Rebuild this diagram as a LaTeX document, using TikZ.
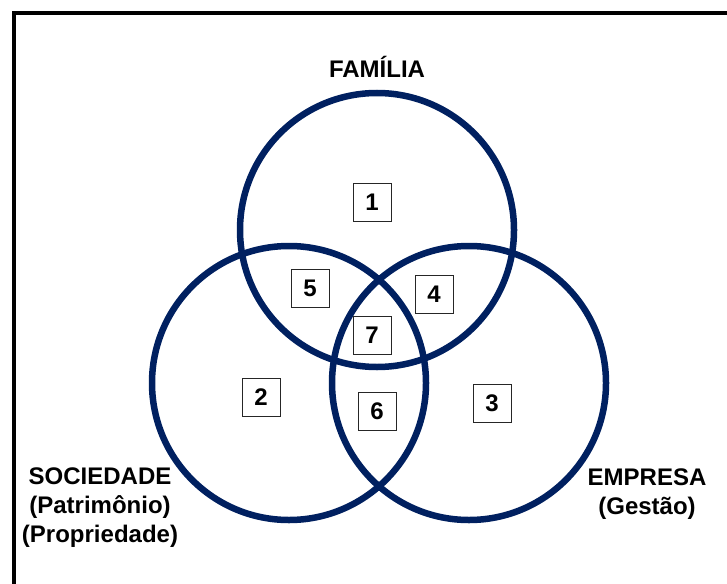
\documentclass[tikz,border=0pt]{standalone}
\usepackage{fontspec}
\setmainfont{Liberation Sans}
\definecolor{navy}{RGB}{0,32,96}
\begin{document}
\begin{tikzpicture}[x=1pt,y=-1pt,
  ring/.style={circle, draw=navy, line width=6.5pt, minimum size=274pt, inner sep=0pt},
  numbox/.style={draw=black!85, line width=1pt, minimum width=38pt, minimum height=38pt,
    inner sep=0pt, font=\fontsize{24}{24}\selectfont\bfseries},
  caption/.style={align=center, font=\fontsize{24}{29}\selectfont\bfseries}]
  \useasboundingbox (0,0) rectangle (727,583);
  \clip (0,0) rectangle (727,583);
  % outer frame (runs past the right and bottom edges)
  \draw[line width=4pt] (14,13) rectangle (760,620);

  % the three sets
  \node[ring] (familia) at (377,230) {};
  \node[ring] (sociedade) at (289,383) {};
  \node[ring] (empresa) at (469,383) {};

  % region numbers
  \node[numbox] (r1) at (372,202) {1};
  \node[numbox] (r2) at (261,397) {2};
  \node[numbox] (r3) at (492,403) {3};
  \node[numbox] (r4) at (434,294) {4};
  \node[numbox] (r5) at (310,288) {5};
  \node[numbox] (r6) at (377,411) {6};
  \node[numbox] (r7) at (372,335) {7};

  % set captions
  \node[caption] (tfam) at (377,67) {FAMÍLIA};
  \node[caption] (tsoc) at (100,508) {SOCIEDADE\\(Patrimônio)\\(Propriedade)};
  \node[caption] (temp) at (647,494) {EMPRESA\\(Gestão)};
\end{tikzpicture}
\end{document}
